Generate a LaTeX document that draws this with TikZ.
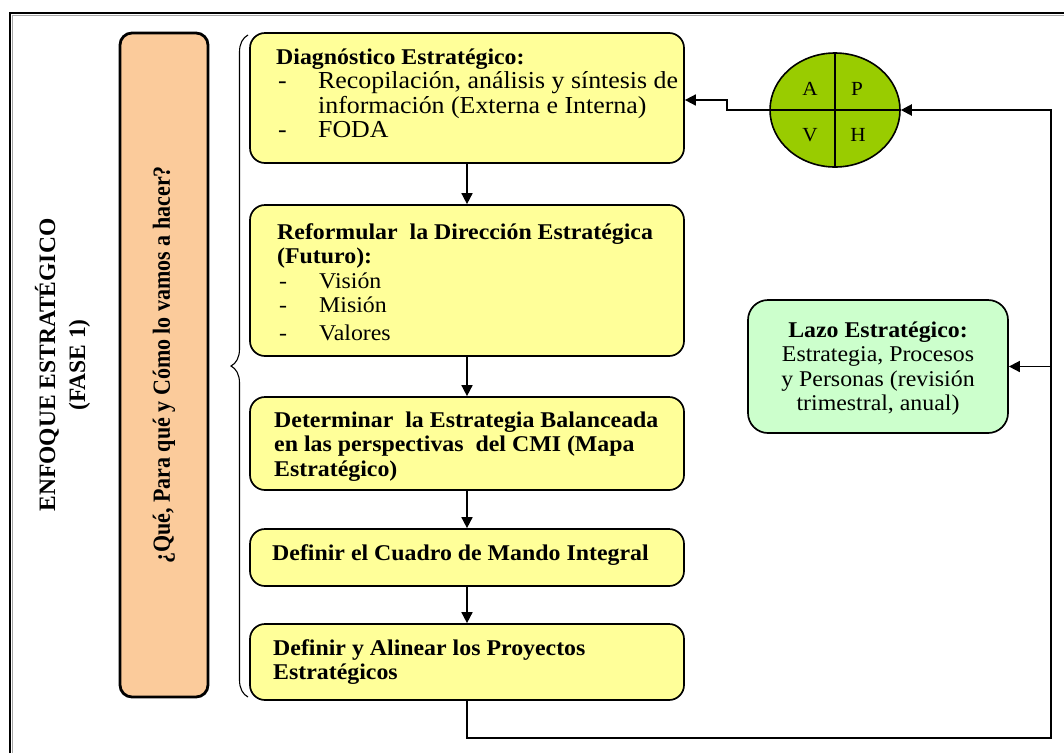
\documentclass[tikz,border=0pt]{standalone}
\usepackage{graphicx}
\usepackage{fontspec}
\setmainfont{Liberation Serif}[FakeStretch=1.06]
\newfontfamily\rotserif{Liberation Serif}
\usetikzlibrary{arrows.meta,shapes.geometric,decorations.pathreplacing}

\definecolor{boxyellow}{HTML}{FFFF99}
\definecolor{boxorange}{HTML}{FBCB9B}
\definecolor{boxgreen}{HTML}{CCFFCC}
\definecolor{pdcagreen}{HTML}{99CC00}

% dash and indent of the bullet lines
\newcommand\dashitem{\makebox[42pt][l]{\hspace{2pt}-}}
\newcommand\contitem{\makebox[42pt]{}}
\newcommand\headfont{\fontsize{22.5}{24.5}\selectfont\bfseries}

\tikzset{
  stepbox/.style={draw=black, line width=1.7pt, fill=boxyellow, rounded corners=15pt, inner sep=0pt},
  askbox/.style={draw=black, line width=2.8pt, fill=boxorange, rounded corners=12pt, inner sep=0pt},
  loopbox/.style={draw=black, line width=1.7pt, fill=boxgreen, rounded corners=20pt, inner sep=0pt},
  bodytext/.style={inner sep=0pt, font=\fontsize{22.5}{24.5}\selectfont},
  bigtext/.style={inner sep=0pt, font=\fontsize{24.4}{24.5}\selectfont},
  rottext/.style={inner sep=0pt, rotate=90, font=\rotserif\bfseries\fontsize{22}{26}\selectfont},
  arr/.style={line width=1.6pt, -{Triangle[length=11pt,width=11pt]}},
  frameline/.style={line width=2.8pt, black},
  frameshade/.style={line width=1.6pt, black!35}
}

\begin{document}
\begin{tikzpicture}[x=1pt,y=-1pt]
\useasboundingbox (0,0) rectangle (1064,753);

% outer frame (top and left edges)
\draw[frameshade] (12.5,753) -- (12.5,15.5) -- (1064,15.5);
\draw[frameline] (10,753) -- (10,13) -- (1064,13);

% vertical titles
\node[rottext, font=\rotserif\bfseries\fontsize{23.5}{30}\selectfont] (title) at (64,365)
  {\begin{tabular}{@{}c@{}}ENFOQUE ESTRATÉGICO\\(FASE 1)\end{tabular}};

\node[askbox, minimum width=88pt, minimum height=664pt] (ask) at (164,365) {};
\node[rottext] (asktext) at (164,365)
  {\scalebox{1}[1.12]{¿Qué, Para qué y Cómo lo vamos a hacer?}};

% brace grouping the steps
\draw[line width=1.1pt, decorate, decoration={brace, amplitude=17pt}] (248,697) -- (248,35);

% steps
\node[stepbox, minimum width=434pt, minimum height=130pt] (d1) at (467,98) {};
\node[stepbox, minimum width=434pt, minimum height=151pt] (d2) at (467,280.5) {};
\node[stepbox, minimum width=434pt, minimum height=93pt] (d3) at (467,443.5) {};
\node[stepbox, minimum width=434pt, minimum height=57pt] (d4) at (467,557.5) {};
\node[stepbox, minimum width=434pt, minimum height=76pt] (d5) at (467,662) {};

\node[bigtext, anchor=base west] (t1) at (276,64) {\begin{tabular}[t]{@{}l@{}}
{\headfont Diagnóstico Estratégico:}\\
\dashitem Recopilación, análisis y síntesis de\\
\contitem información (Externa e Interna)\\
\dashitem FODA
\end{tabular}};

\node[bodytext, anchor=base west] (t2) at (277,239) {\begin{tabular}[t]{@{}l@{}}
\textbf{Reformular\ \ la Dirección Estratégica}\\
\textbf{(Futuro):}\\
\dashitem Visión\\
\dashitem Misión\\[3pt]
\dashitem Valores
\end{tabular}};

\node[bodytext, anchor=base west] (t3) at (274,427) {\begin{tabular}[t]{@{}l@{}}
\textbf{Determinar\ \ la Estrategia Balanceada}\\
\textbf{en las perspectivas\ \ del CMI (Mapa}\\
\textbf{Estratégico)}
\end{tabular}};

\node[bodytext, anchor=base west] (t4) at (272,560) {\textbf{Definir el Cuadro de Mando Integral}};

\node[bodytext, anchor=base west] (t5) at (273,655) {\begin{tabular}[t]{@{}l@{}}
\textbf{Definir y Alinear los Proyectos}\\
\textbf{Estratégicos}
\end{tabular}};

% PDCA circle
\node[ellipse, draw=black, line width=1.6pt, fill=pdcagreen, minimum width=130pt, minimum height=114pt, inner sep=0pt] (pdca) at (835,110) {};
\draw[line width=1.6pt] (pdca.north) -- (pdca.south);
\draw[line width=1.6pt] (pdca.west) -- (pdca.east);
\node[bodytext, font=\fontsize{20}{22}\selectfont] (qa) at (810,89) {A};
\node[bodytext, font=\fontsize{20}{22}\selectfont] (qp) at (857,89) {P};
\node[bodytext, font=\fontsize{20}{22}\selectfont] (qv) at (810,135) {V};
\node[bodytext, font=\fontsize{20}{22}\selectfont] (qh) at (858,135) {H};

% strategic loop box
\node[loopbox, minimum width=260pt, minimum height=133pt] (lazo) at (878,366.5) {};
\node[bodytext, anchor=base] (tl) at (878,337) {\begin{tabular}[t]{@{}c@{}}
\textbf{Lazo Estratégico:}\\
Estrategia, Procesos\\
y Personas (revisión\\
trimestral, anual)
\end{tabular}};

% flow between steps
\draw[arr] (d1) -- (d2);
\draw[arr] (d2) -- (d3);
\draw[arr] (d3) -- (d4);
\draw[arr] (d4) -- (d5);

% feedback loop
\coordinate (rb) at (1051,738);
\coordinate (rt) at (1051,110);
\coordinate (rl) at (1051,366.5);
\coordinate (jog) at (727,110);
\draw[arr, line width=2.2pt] (d5.south) |- (rb) -- (rt) -- (pdca.east);
\draw[arr] (rl) -- (lazo.east);
\draw[arr] (pdca.west) -- (jog) |- ([yshift=-2pt]d1.east);

\end{tikzpicture}
\end{document}
